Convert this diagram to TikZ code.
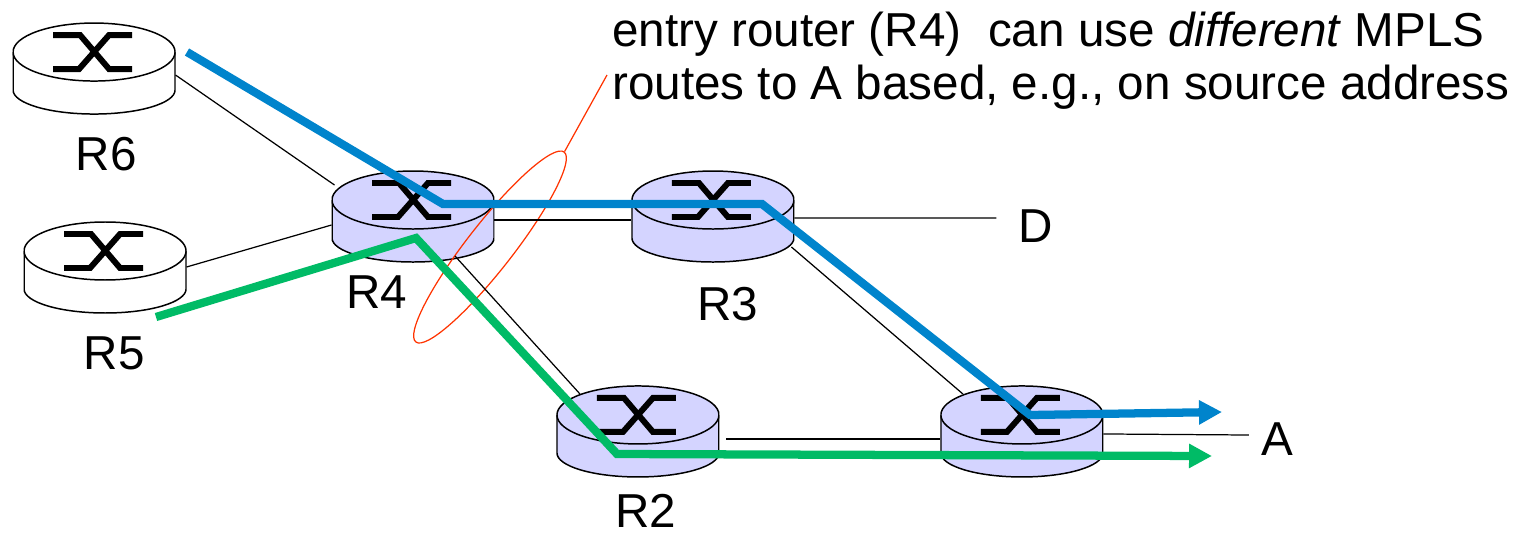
\documentclass[tikz,border=0pt]{standalone}
\usepackage{fontspec}
\setmainfont{Liberation Sans}
\usetikzlibrary{positioning,shapes.geometric,arrows.meta}
\definecolor{routerblue}{HTML}{D4D4FF}
\definecolor{pathblue}{HTML}{0084CC}
\definecolor{pathgreen}{HTML}{00BB66}
\definecolor{calloutred}{HTML}{FF3300}
\tikzset{
	router/.style={minimum width=3.26cm,minimum height=1.88cm,inner sep=0pt,outer sep=0pt,
		path picture={
			\begin{scope}[shift={(path picture bounding box.center)}]
				\draw[line width=0.85pt,fill=#1] (-81,-16) -- (-81,22)
					arc[start angle=180,end angle=0,x radius=81,y radius=24] -- (81,-16);
				\draw[line width=0.85pt,fill=#1] (0,-16) ellipse[x radius=81,y radius=29];
				\draw[line width=3.4pt]
					(-41,-33) -- (-14,-33) -- (15,1) -- (38,1)
					(-41,1) -- (-15,1) -- (15,-33) -- (38,-33);
			\end{scope}
		}},
	router/.default=white,
	link/.style={line width=0.7pt},
	mplsblue/.style={pathblue,line width=4.7pt,line join=miter},
	mplsgreen/.style={pathgreen,line width=4.7pt,line join=miter},
	tip/.style={-{Triangle[length=0.46cm,width=0.46cm]}},
	lbl/.style={font=\fontsize{27.1}{30}\selectfont,inner sep=0pt}
}

\begin{document}
\begin{tikzpicture}[x=0.02cm,y=-0.02cm]
	\useasboundingbox (0,0) rectangle (1527,535);
	% Define nodes
	\node[router=routerblue] (r4) at (413,216) {};
	\node[router=routerblue, right=2.74cm of r4] (r3) {};
	\node[router=routerblue, below=2.42cm of r4, xshift=4.5cm] (r2) {};
	\node[router=routerblue, right=4.42cm of r2] (r1) {};
	\node[router, left=2.9cm of r4, yshift=-1.02cm] (r5) {};
	\node[router, above=2.1cm of r5, xshift=-0.22cm] (r6) {};

	\node[lbl, below=0.44cm of r6, xshift=0.24cm] (r6lbl) {R6};
	\node[lbl, below=0.44cm of r5, xshift=0.18cm] (r5lbl) {R5};
	\node[lbl, below=0.24cm of r4, xshift=-0.72cm] (r4lbl) {R4};
	\node[lbl, below=0.48cm of r3, xshift=0.3cm] (r3lbl) {R3};
	\node[lbl, below=0.32cm of r2, xshift=0.16cm] (r2lbl) {R2};
	\node[lbl] (d) at (1036,226) {D};
	\node[lbl] (a) at (1277,439) {A};
	\node[lbl, anchor=north west, align=left] (note) at (612,12)
		{entry router (R4)\ \ can use \textit{different} MPLS\\routes to A based, e.g., on source address};

	\node[draw=calloutred, line width=0.7pt, ellipse, rotate=52, inner sep=0pt,
		minimum width=4.82cm, minimum height=0.92cm] (bundle) at (490,247) {};
	\coordinate (callout) at (607,75);

	\coordinate (bluestart) at (187,52);
	\coordinate (bluea) at (443,204);
	\coordinate (blueb) at (762,204);
	\coordinate (bluec) at (1030,415);
	\coordinate (blueend) at (1222,412);
	\coordinate (greenstart) at (156,317);
	\coordinate (greena) at (416,238);
	\coordinate (greenb) at (617,454);
	\coordinate (greenend) at (1212,456);

	% Connect the nodes
	\draw[link] ([yshift=-0.14cm]r6.east) -- ([xshift=0.06cm,yshift=0.62cm]r4.west);
	\draw[link] (r5.east) -- ([yshift=-0.18cm]r4.west);
	\draw[link] ([yshift=-0.08cm]r4.east) -- ([yshift=-0.08cm]r3.west);
	\draw[link] ([yshift=-0.04cm]r3.east) -- ([xshift=-0.44cm,yshift=0.16cm]d.west);
	\draw[link] ([xshift=-0.06cm,yshift=-0.62cm]r3.east) -- ([xshift=-1.18cm,yshift=-0.2cm]r1.north);
	\draw[link] ([xshift=0.84cm,yshift=0.14cm]r4.south) -- ([xshift=-1.16cm,yshift=-0.2cm]r2.north);
	\draw[link] ([xshift=0.14cm,yshift=-0.16cm]r2.east) -- ([yshift=-0.16cm]r1.west);
	\draw[link] ([yshift=-0.06cm]r1.east) -- ([xshift=-0.24cm,yshift=0.08cm]a.west);

	\draw[mplsblue,tip] (bluestart) -- (bluea) -- (blueb) -- (bluec) -- (blueend);
	\draw[calloutred,line width=0.7pt] (callout) -- (bundle.east);
	\draw[mplsgreen,tip] (greenstart) -- (greena) -- (greenb) -- (greenend);
\end{tikzpicture}
\end{document}
